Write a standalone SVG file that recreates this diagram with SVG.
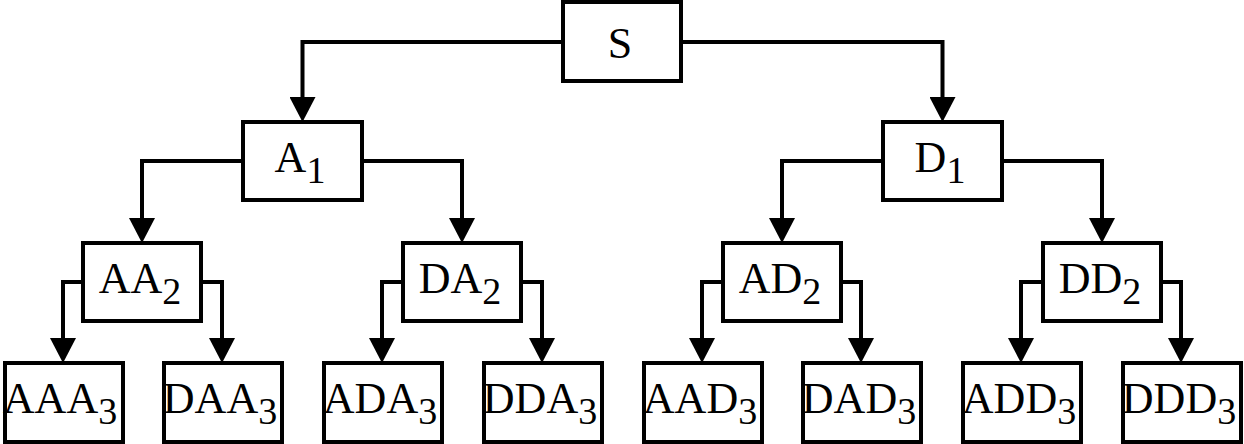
<svg xmlns="http://www.w3.org/2000/svg" width="1244" height="444" viewBox="0 0 1244 444">
<style>
rect{fill:#fff;stroke:#000;stroke-width:4}
text{font-family:"Liberation Serif","Times New Roman",serif;font-size:44px;fill:#000;text-anchor:middle}
.s{font-size:38px}
#edges path{fill:none;stroke:#000;stroke-width:4;marker-end:url(#ah)}
</style>
<defs>
<marker id="ah" viewBox="0 0 25 26" refX="0" refY="13" markerWidth="25" markerHeight="26" markerUnits="userSpaceOnUse" orient="auto">
<path d="M0,0 L25,13 L0,26 Z" fill="#000"/>
</marker>
</defs>
<rect width="1244" height="444" style="fill:#fff;stroke:none"/>
<g id="edges">
<path d="M563,42 H302.5 V97"/>
<path d="M681,42 H942.5 V97"/>
<path d="M243,161 H142 V218"/>
<path d="M362,161 H462 V218"/>
<path d="M883,161 H782 V218"/>
<path d="M1002,161 H1102 V218"/>
<path d="M83,282 H63 V338"/>
<path d="M201,282 H222 V338"/>
<path d="M403,282 H382 V338"/>
<path d="M521,282 H542 V338"/>
<path d="M723,282 H702 V338"/>
<path d="M841,282 H861 V338"/>
<path d="M1043,282 H1021 V338"/>
<path d="M1161,282 H1181 V338"/>
</g>
<g id="S"><rect x="563" y="2" width="118" height="79"/><text x="620" y="58">S</text></g>
<g id="A1"><rect x="243" y="122" width="119" height="78"/><text x="300" y="172">A<tspan class="s" dy="11">1</tspan></text></g>
<g id="D1"><rect x="883" y="122" width="119" height="78"/><text x="940" y="172">D<tspan class="s" dy="11">1</tspan></text></g>
<g id="AA2"><rect x="83" y="243" width="118" height="78"/><text x="140" y="293">AA<tspan class="s" dy="11">2</tspan></text></g>
<g id="DA2"><rect x="403" y="243" width="118" height="78"/><text x="460" y="293">DA<tspan class="s" dy="11">2</tspan></text></g>
<g id="AD2"><rect x="723" y="243" width="118" height="78"/><text x="780" y="293">AD<tspan class="s" dy="11">2</tspan></text></g>
<g id="DD2"><rect x="1043" y="243" width="118" height="78"/><text x="1100" y="293">DD<tspan class="s" dy="11">2</tspan></text></g>
<g id="AAA3"><rect x="5" y="363" width="118" height="79"/><text x="60" y="413">AAA<tspan class="s" dy="11">3</tspan></text></g>
<g id="DAA3"><rect x="164" y="363" width="118" height="79"/><text x="220" y="413">DAA<tspan class="s" dy="11">3</tspan></text></g>
<g id="ADA3"><rect x="324" y="363" width="118" height="79"/><text x="380" y="413">ADA<tspan class="s" dy="11">3</tspan></text></g>
<g id="DDA3"><rect x="484" y="363" width="118" height="79"/><text x="540" y="413">DDA<tspan class="s" dy="11">3</tspan></text></g>
<g id="AAD3"><rect x="644" y="363" width="118" height="79"/><text x="700" y="413">AAD<tspan class="s" dy="11">3</tspan></text></g>
<g id="DAD3"><rect x="803" y="363" width="118" height="79"/><text x="859" y="413">DAD<tspan class="s" dy="11">3</tspan></text></g>
<g id="ADD3"><rect x="963" y="363" width="118" height="79"/><text x="1019" y="413">ADD<tspan class="s" dy="11">3</tspan></text></g>
<g id="DDD3"><rect x="1123" y="363" width="118" height="79"/><text x="1179" y="413">DDD<tspan class="s" dy="11">3</tspan></text></g>
</svg>
